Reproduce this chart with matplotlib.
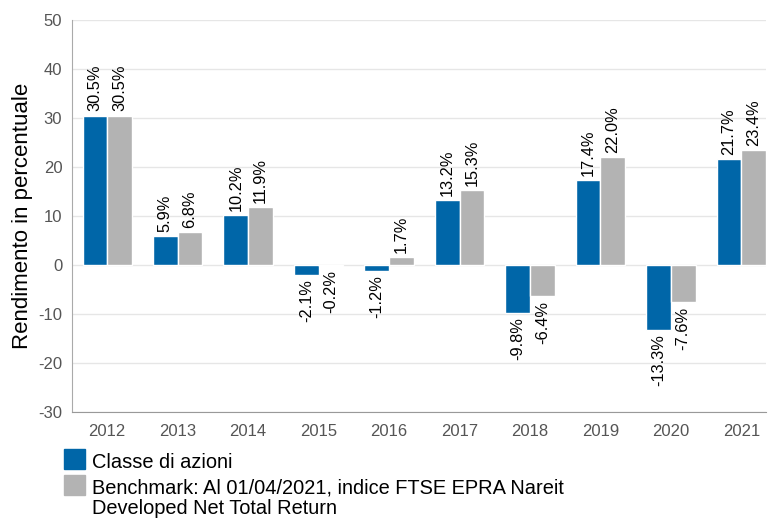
import matplotlib.pyplot as plt
import matplotlib.patches as mpatches
import numpy as np

plt.rcParams['font.family'] = ['Liberation Sans', 'DejaVu Sans']
plt.rcParams['axes.unicode_minus'] = False

# Dati
anni = ['2012', '2013', '2014', '2015', '2016', '2017', '2018', '2019', '2020', '2021']
classe = [30.5, 5.9, 10.2, -2.1, -1.2, 13.2, -9.8, 17.4, -13.3, 21.7]
benchmark = [30.5, 6.8, 11.9, -0.2, 1.7, 15.3, -6.4, 22.0, -7.6, 23.4]

nome_classe = 'Classe di azioni'
nome_benchmark = 'Benchmark: Al 01/04/2021, indice FTSE EPRA Nareit\nDeveloped Net Total Return'

blu = '#0066a8'
grigio = '#b3b3b3'

W, H = 770, 518
fig = plt.figure(figsize=(W / 100, H / 100), dpi=100)
ax = fig.add_axes([72 / W, 1 - 412 / H, 694 / W, 392 / H])

x = np.arange(len(anni))
w = 0.35
b1 = ax.bar(x - w / 2, classe, w, color=blu, edgecolor='white', linewidth=1, zorder=3)
b2 = ax.bar(x + w / 2, benchmark, w, color=grigio, edgecolor='white', linewidth=1, zorder=3)

# Etichette sulle barre
for barre in (b1, b2):
    for r in barre:
        v = r.get_height()
        xc = r.get_x() + r.get_width() / 2
        if v >= 0:
            ax.annotate(f'{v:.1f}%', (xc, v), xytext=(0, 3), textcoords='offset points',
                        rotation=90, ha='center', va='bottom', fontsize=11.8)
        else:
            ax.annotate(f'{v:.1f}%', (xc, v), xytext=(0, -3), textcoords='offset points',
                        rotation=90, ha='center', va='top', fontsize=11.8)

ax.set_xlim(-0.5, 9.35)
ax.set_ylim(-30, 50)
ax.set_yticks(range(-30, 51, 10))
ax.set_xticks(x)
ax.set_xticklabels(anni)
ax.tick_params(length=0, labelsize=12, labelcolor='#555555', pad=7)
ax.tick_params(axis='x', pad=9)
ax.grid(axis='y', color='#e6e6e6', linewidth=1, zorder=0)
ax.set_axisbelow(True)
for s in ['top', 'right']:
    ax.spines[s].set_visible(False)
ax.spines['left'].set_color('#aaaaaa')
ax.spines['bottom'].set_color('#999999')
ax.set_ylabel('Rendimento in percentuale', fontsize=16, labelpad=4)


# Legenda sotto il grafico, disegnata a mano (quadrato allineato alla prima riga)
def px(xp, yp):
    return xp / W, 1 - yp / H


voci = [(blu, nome_classe, 449), (grigio, nome_benchmark, 475)]
for colore, testo, top in voci:
    fig.patches.append(mpatches.Rectangle(px(64, top + 20), 21 / W, 20 / H,
                                          color=colore, transform=fig.transFigure))
    for i, riga in enumerate(testo.split('\n')):
        fig.text(*px(92, top + 19 + i * 20), riga, fontsize=14.4, va='baseline', ha='left')

fig.savefig('out.png', dpi=100)
